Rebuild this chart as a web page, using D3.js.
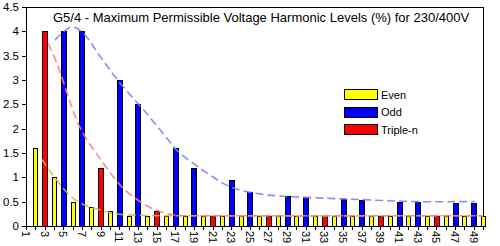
<!DOCTYPE html>
<html>
<head>
  <meta charset="UTF-8">
  <style>
    body { margin: 0; padding: 0; background: #fff; }
    svg { display: block; font-family: Arial, "Liberation Sans", sans-serif; }
    .tick-label { font-size: 11px; fill: #000; }
  </style>
</head>
<body>
  <svg width="500" height="246"></svg>
  <script src="https://d3js.org/d3.v7.min.js"></script>
  <script>
    // harmonic orders and limits (%)
    const evenH = d3.range(2, 51, 2);
    const evenV = [1.6, 1.0, 0.49, 0.4, 0.3, 0.2, 0.2, 0.2, 0.2, 0.2, 0.2, 0.2, 0.2,
                   0.2, 0.2, 0.2, 0.2, 0.2, 0.2, 0.2, 0.2, 0.2, 0.2, 0.2, 0.2];
    const oddH = [5, 7, 11, 13, 17, 19, 23, 25, 29, 31, 35, 37, 41, 43, 47, 49];
    const oddV = [4, 4, 3, 2.5, 1.6, 1.2, 0.94, 0.7, 0.61, 0.59, 0.555, 0.53, 0.5, 0.49, 0.48, 0.47];
    const tripH = [3, 9, 15, 21, 27, 33, 39, 45];
    const tripV = [4, 1.2, 0.3, 0.2, 0.2, 0.2, 0.2, 0.2];

    // dashed envelope curves, [harmonic, %]
    const oddCurve = [[4.1, 3.82], [5.9, 4.09], [7.1, 3.97], [8.9, 3.5], [10.9, 2.98], [13.9, 2.32],
                      [16.25, 1.77], [17.15, 1.56], [18.9, 1.29], [20.7, 1.05], [22.5, 0.84],
                      [24.3, 0.72], [26.1, 0.66], [27.9, 0.62], [29.6, 0.6], [33.2, 0.57],
                      [36.1, 0.55], [39.7, 0.52], [43.2, 0.5], [46.8, 0.5], [49.1, 0.5]];
    const tripCurve = [[3.39, 3.75], [4.46, 3.27], [5.53, 2.66], [6.6, 2.1], [7.7, 1.72], [8.93, 1.39],
                       [10.36, 1.01], [11.6, 0.74], [12.87, 0.55], [14.3, 0.38], [15.5, 0.29],
                       [16.5, 0.24], [17.5, 0.215], [20, 0.21], [30, 0.21], [40, 0.21], [50, 0.21]];
    const evenCurve = [[2.68, 1.37], [3.75, 1.08], [5.0, 0.77], [6.07, 0.57], [7.3, 0.43],
                       [8.93, 0.33], [10.36, 0.26], [11.8, 0.23], [14, 0.215], [20, 0.21], [50, 0.21]];

    const yTicks = d3.range(0, 4.51, 0.5);
    const xLabels = d3.range(1, 50, 2);
    const legendItems = [["Even", "#ffff00"], ["Odd", "#0000ff"], ["Triple-n", "#ff0000"]];

    const svg = d3.select("svg");
    const x = d3.scaleLinear().domain([1, 50]).range([26, 483]);
    const y = d3.scaleLinear().domain([0, 4.5]).range([226, 7]);

    // frame (top + right)
    svg.append("path")
        .attr("d", `M${x(1)},${y(4.5) + 0.5}H${x(50) + 0.5}V${y(0)}`)
        .attr("fill", "none").attr("stroke", "#000").attr("shape-rendering", "crispEdges");

    // bars
    function bars(hs, vs, color, w) {
        svg.append("g").selectAll("rect")
            .data(hs.map((h, i) => [h, vs[i]]))
            .enter().append("rect")
            .attr("x", d => Math.round(x(d[0]) - w / 2) + 0.5)
            .attr("y", d => Math.round(y(d[1])) + 0.5)
            .attr("width", w)
            .attr("height", d => Math.round(y(0)) - Math.round(y(d[1])))
            .attr("fill", color)
            .attr("stroke", "#000")
            .attr("stroke-width", 1)
            .attr("shape-rendering", "crispEdges");
    }
    bars(evenH, evenV, "#ffff00", 4);
    bars(oddH, oddV, "#0000ff", 5);
    bars(tripH, tripV, "#ff0000", 5);

    // dashed curves
    const line = d3.line()
        .x(d => x(d[0]))
        .y(d => y(d[1]))
        .curve(d3.curveCatmullRom.alpha(0.5));
    [[evenCurve, "#c8c050"], [tripCurve, "#ff7f7f"], [oddCurve, "#8080ff"]].forEach(([pts, c]) => {
        svg.append("path")
            .attr("d", line(pts))
            .attr("fill", "none")
            .attr("stroke", c)
            .attr("stroke-width", 1.6)
            .attr("stroke-dasharray", "8,4")
            .attr("opacity", 0.9);
    });

    // axes
    const yAxis = svg.append("g");
    yAxis.append("line")
        .attr("x1", 26.5).attr("x2", 26.5).attr("y1", y(4.5)).attr("y2", y(0) + 4)
        .attr("stroke", "#000").attr("shape-rendering", "crispEdges");
    yAxis.selectAll(".yt").data(yTicks).enter().append("line")
        .attr("x1", 22).attr("x2", 26)
        .attr("y1", d => Math.round(y(d)) + 0.5).attr("y2", d => Math.round(y(d)) + 0.5)
        .attr("stroke", "#000").attr("shape-rendering", "crispEdges");
    yAxis.selectAll("text").data(yTicks).enter().append("text")
        .attr("class", "tick-label")
        .attr("font-size", "11.5px")
        .style("font-size", "11.5px")
        .attr("x", 19).attr("y", d => y(d) + 4)
        .attr("text-anchor", "end")
        .text(d => d3.format("~g")(d));

    const xAxis = svg.append("g");
    xAxis.append("line")
        .attr("x1", 22).attr("x2", x(50) + 1).attr("y1", 226.5).attr("y2", 226.5)
        .attr("stroke", "#000").attr("shape-rendering", "crispEdges");
    xAxis.selectAll(".xt").data(d3.range(1, 51)).enter().append("line")
        .attr("x1", d => Math.round(x(d)) + 0.5).attr("x2", d => Math.round(x(d)) + 0.5)
        .attr("y1", 226).attr("y2", 230)
        .attr("stroke", "#000").attr("shape-rendering", "crispEdges");
    xAxis.selectAll("text").data(xLabels).enter().append("text")
        .attr("class", "tick-label")
        .attr("transform", d => `translate(${x(d) - 4},231) rotate(90)`)
        .attr("text-anchor", "start")
        .text(d => d);

    // title
    svg.append("text")
        .attr("x", 53).attr("y", 22)
        .attr("font-size", "13px")
        .text("G5/4 - Maximum Permissible Voltage Harmonic Levels (%) for 230/400V");

    // legend
    const legend = svg.append("g").selectAll("g").data(legendItems).enter().append("g")
        .attr("transform", (d, i) => `translate(344,${89 + i * 17.7})`);
    legend.append("rect")
        .attr("x", 0.5).attr("y", 0.5).attr("width", 33).attr("height", 10)
        .attr("fill", d => d[1]).attr("stroke", "#000").attr("shape-rendering", "crispEdges");
    legend.append("text")
        .attr("class", "tick-label")
        .attr("x", 37).attr("y", 9.5)
        .text(d => d[0]);
  </script>
</body>
</html>
